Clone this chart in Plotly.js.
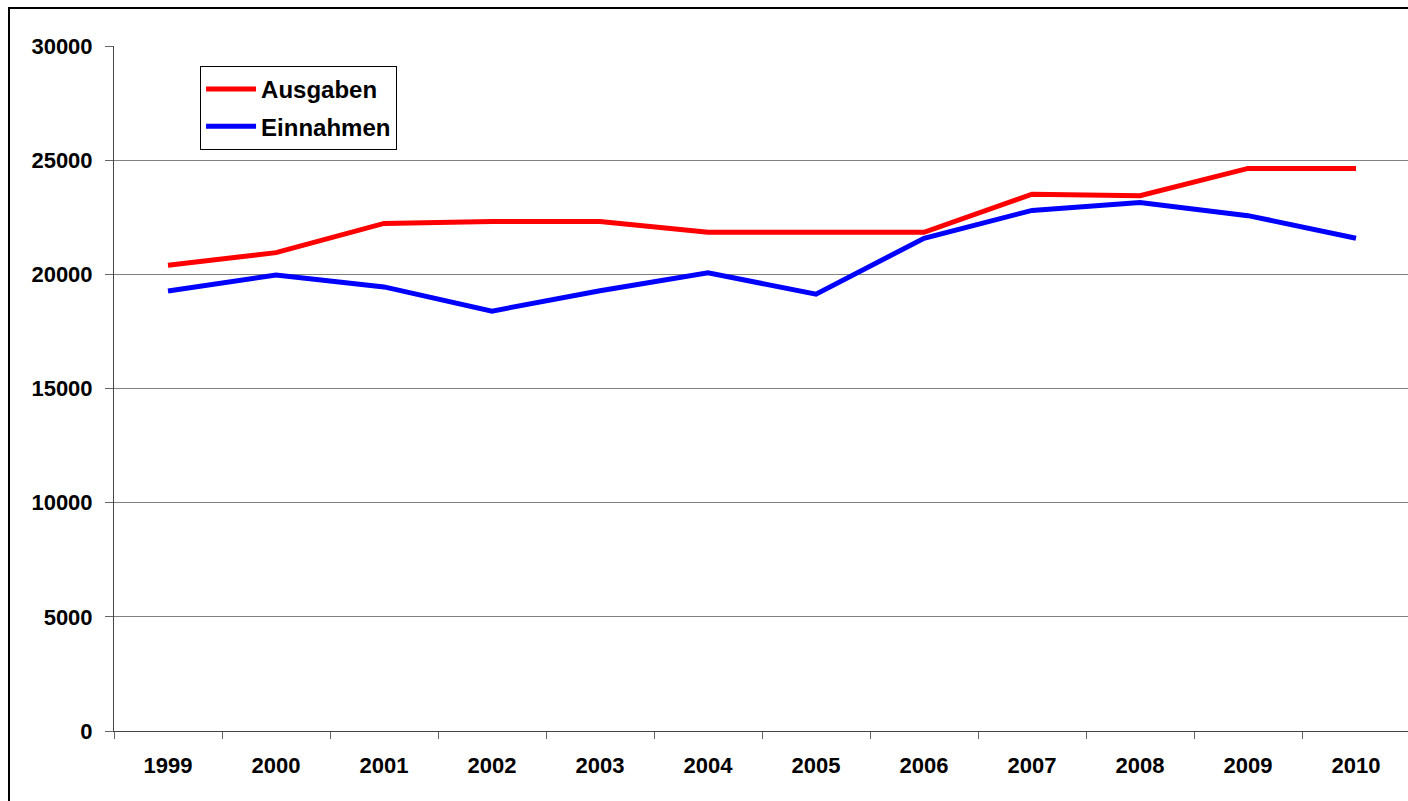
<!DOCTYPE html>
<html>
<head>
<meta charset="utf-8">
<script src="https://cdn.plot.ly/plotly-3.0.1.min.js"></script>
<style>
html,body{margin:0;padding:0;overflow:hidden;background:#fff;width:1408px;height:801px;}
#frame{position:absolute;left:8px;top:7px;width:1500px;height:900px;border:2px solid #000;box-sizing:border-box;pointer-events:none;z-index:5;}
#chart{position:absolute;left:0;top:0;width:1420px;height:801px;}
</style>
</head>
<body>
<div id="chart"></div>
<div id="frame"></div>
<script>
var years = ['1999','2000','2001','2002','2003','2004','2005','2006','2007','2008','2009','2010'];
var ausgaben = [20400, 20950, 22230, 22310, 22310, 21840, 21840, 21840, 23510, 23440, 24640, 24640];
var einnahmen = [19270, 19970, 19450, 18390, 19280, 20070, 19130, 21580, 22800, 23150, 22570, 21580];
var yTicks = [0, 5000, 10000, 15000, 20000, 25000, 30000];

var font = {family: 'Liberation Sans, Arial, sans-serif', size: 22, color: '#000'};

var traces = [
  {x: years, y: ausgaben, name: 'Ausgaben', type: 'scatter', mode: 'lines',
   line: {color: '#FF0000', width: 5}, legendgroup: 'a'},
  {x: years, y: einnahmen, name: 'Einnahmen', type: 'scatter', mode: 'lines',
   line: {color: '#0000FF', width: 5}, legendgroup: 'b'}
];

var layout = {
  width: 1420, height: 801,
  margin: {l: 114, r: 10, t: 46, b: 70},
  paper_bgcolor: '#fff', plot_bgcolor: '#fff',
  font: font,
  showlegend: true,
  legend: {
    x: 0.0664, y: 0.971, xanchor: 'left', yanchor: 'top',
    bordercolor: '#000', borderwidth: 1, bgcolor: '#fff',
    font: {family: 'Liberation Sans, Arial, sans-serif', size: 24, color: '#000', weight: 'bold'},
    tracegroupgap: 3, itemwidth: 50
  },
  xaxis: {
    type: 'category', range: [-0.5, 11.5],
    showline: true, linecolor: '#444', linewidth: 1,
    ticks: 'outside', ticklen: 7, tickcolor: '#666', tickson: 'boundaries',
    showgrid: false, zeroline: false,
    tickfont: {family: 'Liberation Sans, Arial, sans-serif', size: 22, color: '#000', weight: 'bold'},
    ticklabelstandoff: 15
  },
  yaxis: {
    range: [0, 30000], tickvals: yTicks, ticktext: yTicks.map(String),
    showline: true, linecolor: '#444', linewidth: 1,
    ticks: 'outside', ticklen: 8, tickcolor: '#666',
    showgrid: true, gridcolor: '#808080', gridwidth: 1,
    zeroline: false,
    tickfont: {family: 'Liberation Sans, Arial, sans-serif', size: 22, color: '#000', weight: 'bold'},
    ticklabelstandoff: 8
  }
};

Plotly.newPlot('chart', traces, layout, {displayModeBar: false, staticPlot: true});
</script>
</body>
</html>
